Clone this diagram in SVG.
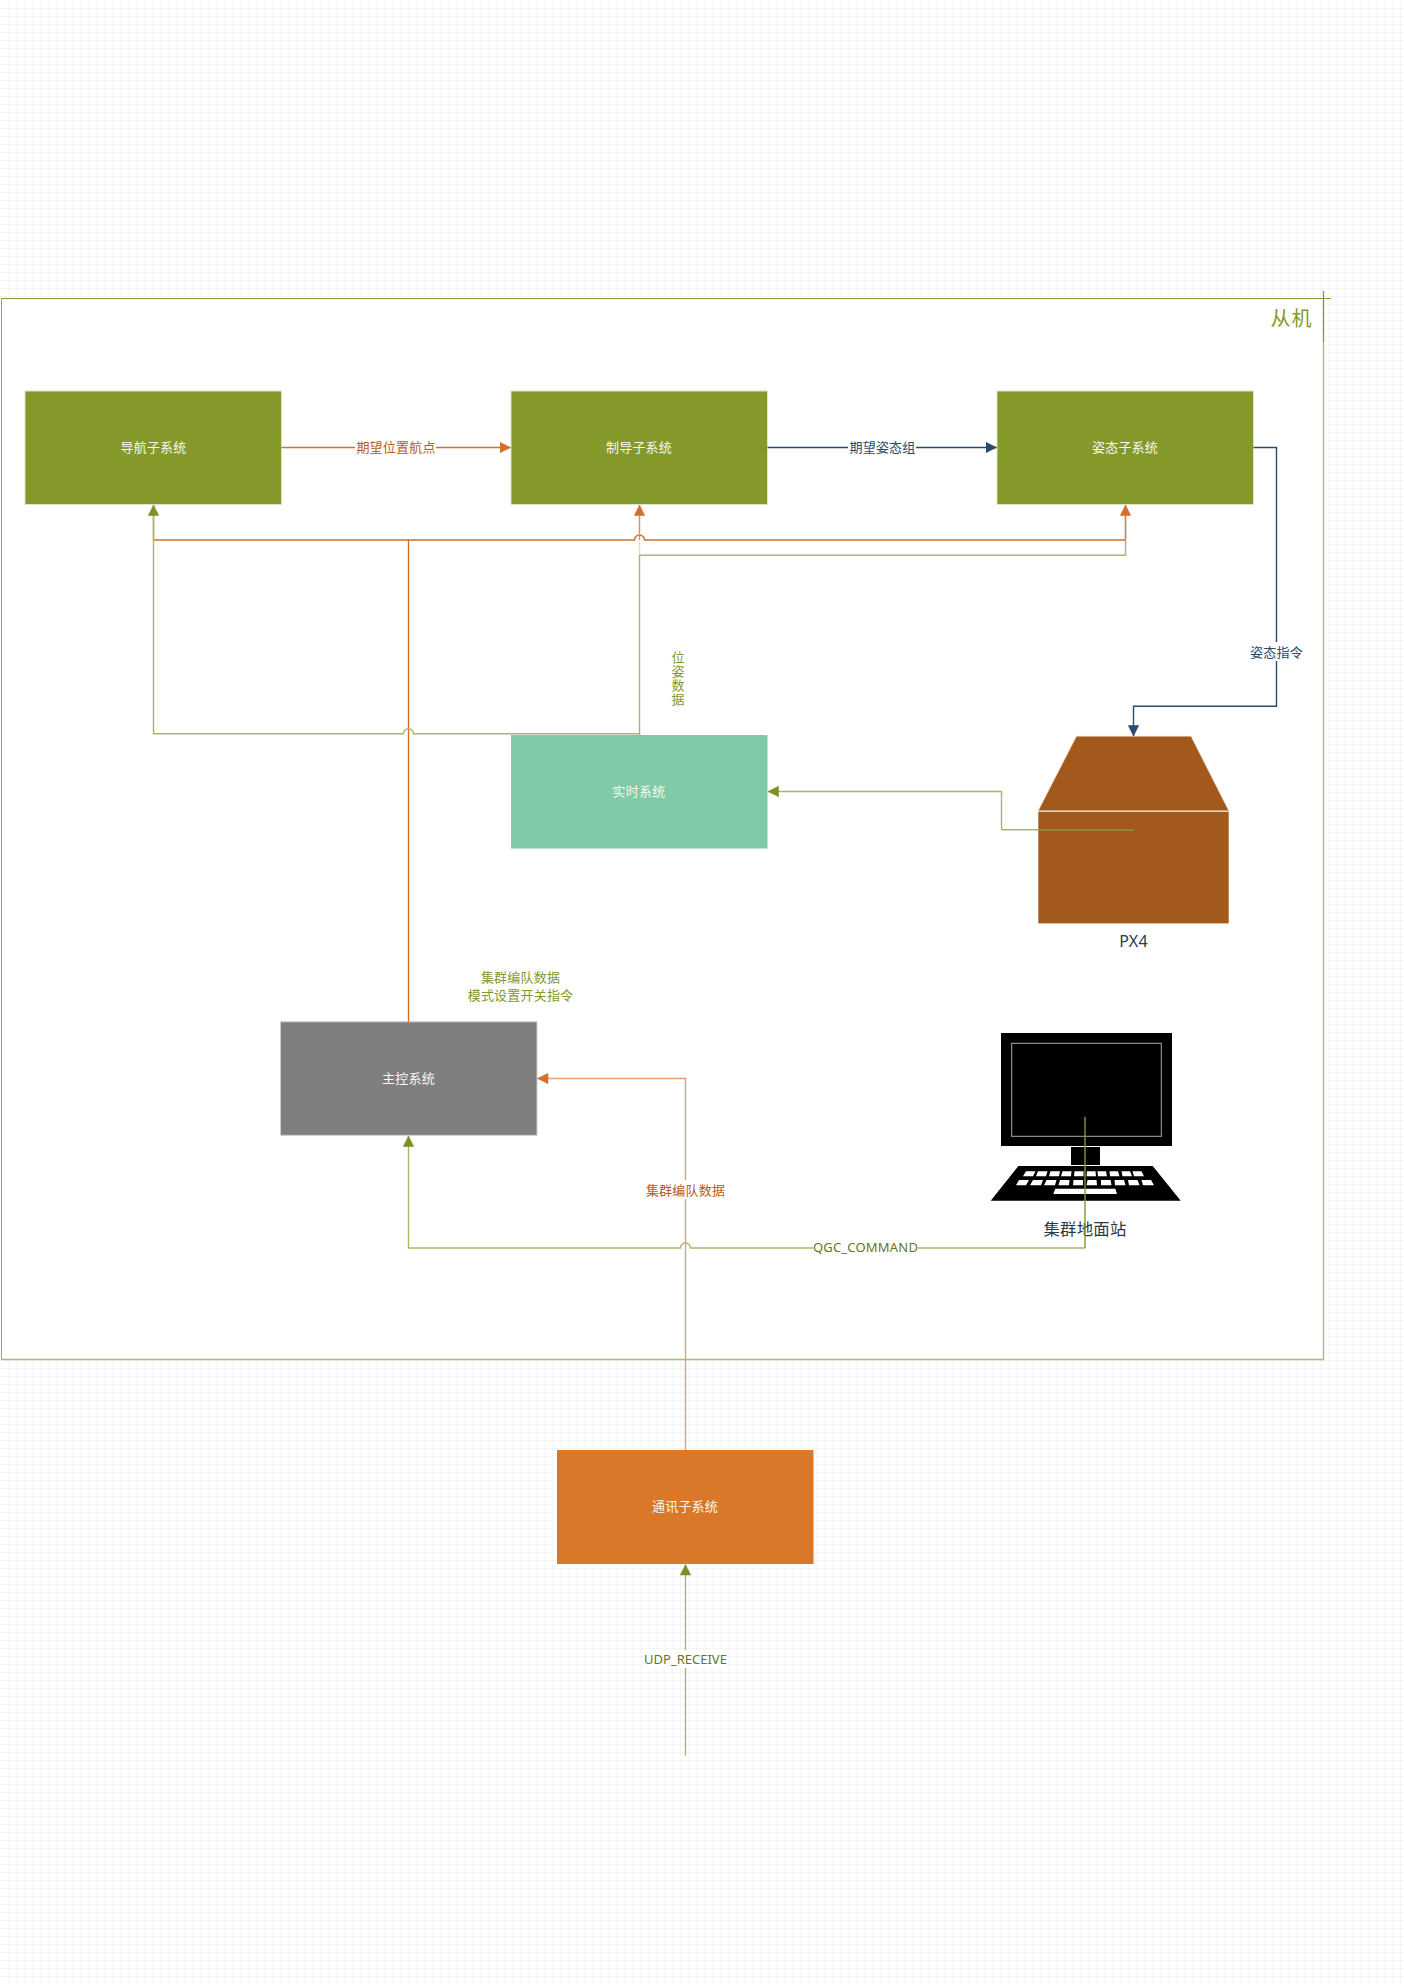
<svg xmlns="http://www.w3.org/2000/svg" width="1404" height="1984" viewBox="0 0 1404 1984">
<style>
text{font-family:"Noto Sans","Noto Sans CJK SC","Liberation Sans",sans-serif;font-size:13px;letter-spacing:.2px;text-anchor:middle;dominant-baseline:central}
.w{fill:#f7f7f2}
.g{fill:#85982a}
.o{fill:#b55c1e}
.b{fill:#2a4a6e}
.dg{fill:#66751f}
.k{fill:#2b3a48;font-size:16px}
.box{stroke-width:1}
.ln{fill:none;stroke-width:1.4}
.lg{stroke:#a8b86a}
.sg{stroke:#85982a}
.lo{stroke:#d0702a}
.po{stroke:#e0a070}
.bl{stroke:#2a4a6e}
.lb{fill:#fff}
</style>
<defs>
<pattern id="grid" width="8" height="8" patternUnits="userSpaceOnUse"><path d="M.5 0V8M0 .5H8" fill="none" stroke="#f5f5f5" stroke-width="1"/></pattern>
<marker id="ag" markerUnits="userSpaceOnUse" markerWidth="13" markerHeight="13" refX="11" refY="6" orient="auto"><path d="M.5 .75L11 6L.5 11.250z" fill="#7b9026" stroke="#7b9026" stroke-width=".5"/></marker>
<marker id="ao" markerUnits="userSpaceOnUse" markerWidth="13" markerHeight="13" refX="11" refY="6" orient="auto"><path d="M.5 .75L11 6L.5 11.250z" fill="#d0702a" stroke="#d0702a" stroke-width=".5"/></marker>
<marker id="ab" markerUnits="userSpaceOnUse" markerWidth="13" markerHeight="13" refX="11" refY="6" orient="auto"><path d="M.5 .75L11 6L.5 11.250z" fill="#2a4a6e" stroke="#2a4a6e" stroke-width=".5"/></marker>
</defs>
<rect width="1404" height="1984" fill="#fff"/>
<rect width="1404" height="1984" fill="url(#grid)"/>
<path d="M0 .5H1404M.5 0V1984" stroke="#fff" stroke-width="1"/>
<g id="frame">
<rect x="1.5" y="298.5" width="1322" height="1061" fill="#fff" stroke="none"/>
<path d="M1.5 1359.500V298.500" fill="none" stroke="#9aab4c" stroke-width="1"/>
<path d="M1.500 298.500H1331" fill="none" stroke="#85982a" stroke-width="1"/>
<path d="M1323.500 342V1359.500H1.500" fill="none" stroke="#aab96e" stroke-width="1.3"/>
<path d="M1323.500 291V342" fill="none" stroke="#85982a" stroke-width="1.3"/>
<text class="g" x="1291.500" y="318.500" style="font-size:20px;letter-spacing:1px">从机</text>
</g>
<g id="nav"><rect class="box" x="25" y="391" width="256.500" height="113.500" fill="#85982a" stroke="#dfe4c6"/><text class="w" x="153.500" y="446.500">导航子系统</text></g>
<g id="guidance"><rect class="box" x="511" y="391" width="256.500" height="113.500" fill="#85982a" stroke="#dfe4c6"/><text class="w" x="639" y="446.500">制导子系统</text></g>
<g id="attitude"><rect class="box" x="997" y="391" width="256.500" height="113.500" fill="#85982a" stroke="#dfe4c6"/><text class="w" x="1125" y="446.500">姿态子系统</text></g>
<g id="realtime"><rect x="511" y="735" width="256.500" height="113.500" fill="#7fcba8"/><text class="w" x="639" y="790.500">实时系统</text></g>
<g id="master"><rect class="box" x="280.500" y="1021.800" width="256.500" height="113.500" fill="#7f7f7f" stroke="#cfcfcf"/><text class="w" x="408.500" y="1077.500">主控系统</text></g>
<g id="comm"><rect x="557" y="1450" width="256.500" height="114" fill="#d97828"/><text class="w" x="685" y="1505.800">通讯子系统</text></g>
<g id="px4">
<path d="M1076.500 736.300H1191L1228.700 810.700H1038.300z" fill="#a4591c" stroke="#e8cbb4" stroke-width=".6"/>
<rect x="1038.300" y="811.700" width="190.400" height="111.700" fill="#a4591c"/>
<text class="k" x="1133.500" y="940.500">PX4</text>
</g>
<g id="station">
<rect x="1001" y="1033" width="171" height="113" fill="#000"/>
<rect x="1011.700" y="1043.300" width="149.600" height="93" fill="#000" stroke="#aaa" stroke-width="1"/>
<rect x="1071" y="1147" width="29" height="18" fill="#000"/>
<path d="M1018.300 1166H1152.700L1180.700 1200.700H990.700z" fill="#000"/>
<g fill="#fff" transform="translate(1 0)">
<path d="M1025 1171.300h9.500l-2.500 5h-10zM1037 1171.300h9.500l-1.500 5h-10zM1049.500 1171.300h9.500l-1 5h-10zM1061.500 1171.300h9l-.5 5h-10zM1073.500 1171.300h9l0 5h-9.500zM1086 1171.300h8.500l.5 5h-9.500zM1096.500 1171.300h8.500l1 5h-9zM1108.500 1171.300h8.500l1.500 5h-9.500zM1120.500 1171.300h8.500l2 5h-9.500zM1131.500 1171.300h9l2.500 5h-10z"/>
<path d="M1018 1180h10l-3 5.300h-10zM1032 1180h10l-2 5.300h-11zM1045.500 1180h10l-1.500 5.300h-11zM1059 1180h9.500l-.5 5.300h-10.500zM1072.500 1180h9.500l0 5.300h-10zM1086.500 1180h9l.5 5.300h-10.500zM1100 1180h9.500l1 5.300h-10.500zM1113.500 1180h9.500l1.500 5.300h-10.500zM1127 1180h9.500l2 5.300h-10.500zM1140.500 1180h9.500l3 5.300h-11z"/>
<path d="M1054.300 1188.700H1114.300L1116 1194H1052.300z"/>
</g>
<text class="k" x="1085" y="1228" style="font-size:16.400px">集群地面站</text>
</g>
<g id="connectors">
<path class="ln lo" d="M408.500 1021.700V540H153.500V515"/>
<path class="ln lg" d="M1001.500 829.700H1133.500"/>
<path class="ln" stroke="#7d8f2a" d="M1038.300 829.700H1133.500"/>
<path class="ln lg" d="M639.500 735V733.700H413.500A5 5 0 0 0 403.500 733.700H153.500V505" marker-end="url(#ag)"/>
<path class="ln lg" d="M639.500 735V555.300H1125.500V510"/>
<path class="ln" stroke="#dbe3c0" d="M639.500 555V541"/>
<path class="ln lo" d="M408.500 540H634.500A5 5 0 0 1 644.500 540H1125.500"/>
<path class="ln" stroke="#d0883a" d="M1125.500 540V505" marker-end="url(#ao)"/>
<path class="ln" stroke="#d39550" d="M639.500 540V505" marker-end="url(#ao)"/>
<path class="ln lo" d="M281.500 447.500H510.500" marker-end="url(#ao)"/>
<path class="ln bl" d="M767.500 447.500H996.500" marker-end="url(#ab)"/>
<path class="ln bl" d="M1253.500 447.500H1276.500V706.300H1133.500V736" marker-end="url(#ab)"/>
<path class="ln lg" d="M1001.500 829.700V791.500H768" marker-end="url(#ag)"/>
<path class="ln po" d="M685.500 1450V1078.500H537.500" marker-end="url(#ao)"/>
<path class="ln lg" d="M1085 1248H690.500A5 5 0 0 0 680.500 1248H408.500V1136" marker-end="url(#ag)"/>
<path class="ln sg" d="M1085 1116.700V1248"/>
<path class="ln lg" d="M685.500 1755.700V1564.500" marker-end="url(#ag)"/>
<rect class="lb" x="355" y="438" width="81" height="19"/><text class="o" x="396" y="446.500">期望位置航点</text>
<rect class="lb" x="848" y="438" width="68" height="19"/><text class="b" x="882.500" y="446.500">期望姿态组</text>
<rect class="lb" x="1249" y="642" width="55" height="19"/><text class="b" x="1276.500" y="651.500">姿态指令</text>
<text class="g" x="520.500" y="976.500">集群编队数据</text>
<text class="g" x="520.500" y="994.700">模式设置开关指令</text>
<text class="g" x="677.500" y="679" style="writing-mode:vertical-rl;letter-spacing:1px">位姿数据</text>
<rect class="lb" x="645" y="1180" width="81" height="19"/><text class="o" x="685.500" y="1189.700">集群编队数据</text>
<rect class="lb" x="813" y="1239" width="105" height="18"/><text class="dg" x="865.500" y="1247">QGC_COMMAND</text>
<rect class="lb" x="645" y="1650" width="81" height="18"/><text class="dg" x="685.500" y="1658.700" style="letter-spacing:0">UDP_RECEIVE</text>
</g>
</svg>
